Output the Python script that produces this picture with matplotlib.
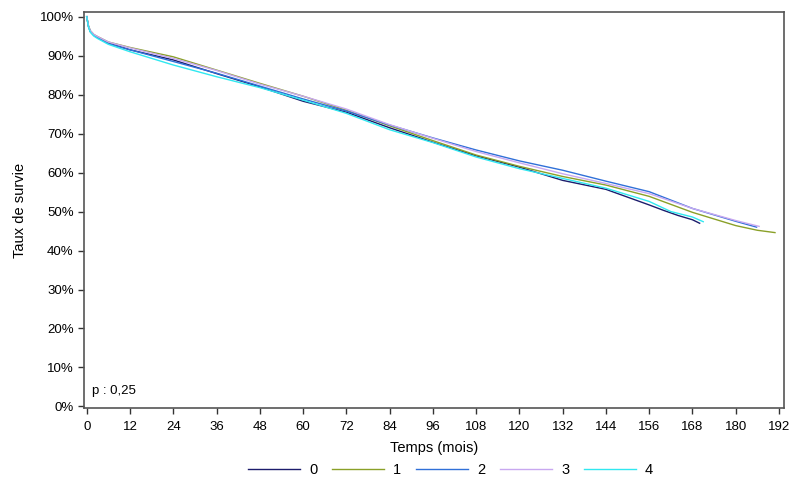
import matplotlib
matplotlib.use("Agg")
import matplotlib.pyplot as plt
from matplotlib.ticker import FuncFormatter

plt.rcParams['font.family'] = ['Liberation Sans', 'DejaVu Sans']

labels = ["0", "1", "2", "3", "4"]
colors = ["#1c1c6c", "#8aa028", "#3070d8", "#c8a8f0", "#30e8f0"]

t_common = [0, 0.5, 1, 2, 3, 6, 12, 24, 36, 48, 60, 72, 84, 96, 108, 120, 132, 144, 156]

times = {
    "0": t_common + [160, 164, 168, 170],
    "1": t_common + [168, 180, 186, 190.9],
    "2": t_common + [168, 180, 185.8],
    "3": t_common + [168, 180, 186.5],
    "4": t_common + [162, 168, 171],
}

surv = {
    "0": [100, 97.5, 96.2, 95.2, 94.7, 93.2, 91.5, 88.9, 85.4, 82.0, 78.3, 75.5, 71.5, 67.8, 64.3, 61.4, 58.0, 55.7, 51.7, 50.3, 49.0, 47.9, 47.0],
    "1": [100, 97.6, 96.4, 95.4, 94.9, 93.5, 92.1, 89.7, 86.3, 82.9, 79.6, 76.0, 72.0, 68.2, 64.5, 61.6, 59.0, 56.8, 53.9, 49.8, 46.4, 45.2, 44.6],
    "2": [100, 97.4, 96.2, 95.2, 94.6, 93.1, 91.5, 88.5, 85.5, 82.2, 78.9, 75.8, 72.2, 68.9, 65.8, 63.0, 60.6, 57.8, 55.1, 50.8, 47.5, 46.0],
    "3": [100, 97.6, 96.4, 95.4, 94.9, 93.5, 92.0, 89.3, 86.2, 82.7, 79.6, 76.3, 72.3, 68.8, 65.4, 62.5, 59.7, 57.2, 54.6, 50.8, 47.7, 46.2],
    "4": [100, 97.3, 96.0, 95.0, 94.4, 92.9, 91.0, 87.6, 84.6, 81.8, 78.6, 75.2, 71.0, 67.7, 64.0, 61.0, 58.5, 56.0, 52.6, 50.0, 48.6, 47.4],
}

xticks = list(range(0, 193, 12))
yticks = list(range(0, 101, 10))

fig = plt.figure(figsize=(8, 4.87), dpi=100)
ax = fig.add_axes([0.105, 0.1622, 0.875, 0.8132])

for lab, col in zip(labels, colors):
    ax.plot(times[lab], surv[lab], color=col, lw=1.0, label=lab)

ax.set_xlim(-0.75, 193.4)
ax.set_ylim(-0.4, 101.2)
ax.set_xticks(xticks)
ax.set_yticks(yticks)
ax.yaxis.set_major_formatter(FuncFormatter(lambda v, p: f"{int(v)}%"))
ax.tick_params(labelsize=9.5, length=4, width=1, colors="#333333", labelcolor="black")
ax.tick_params(axis="x", pad=5)
for s in ax.spines.values():
    s.set_color("#555555")
    s.set_linewidth(1.2)

ax.set_xlabel("Temps (mois)", fontsize=10.5, labelpad=6)
ax.set_ylabel("Taux de survie", fontsize=10.5, labelpad=9)
ax.text(0.012, 0.028, "p : 0,25", transform=ax.transAxes, fontsize=9.5, ha="left", va="bottom")

fig.legend(loc="center", bbox_to_anchor=(0.563, 0.035), ncol=5, frameon=False,
           fontsize=10.5, handlelength=3.6, columnspacing=1.0, handletextpad=0.6)

fig.savefig("out.png", dpi=100)
